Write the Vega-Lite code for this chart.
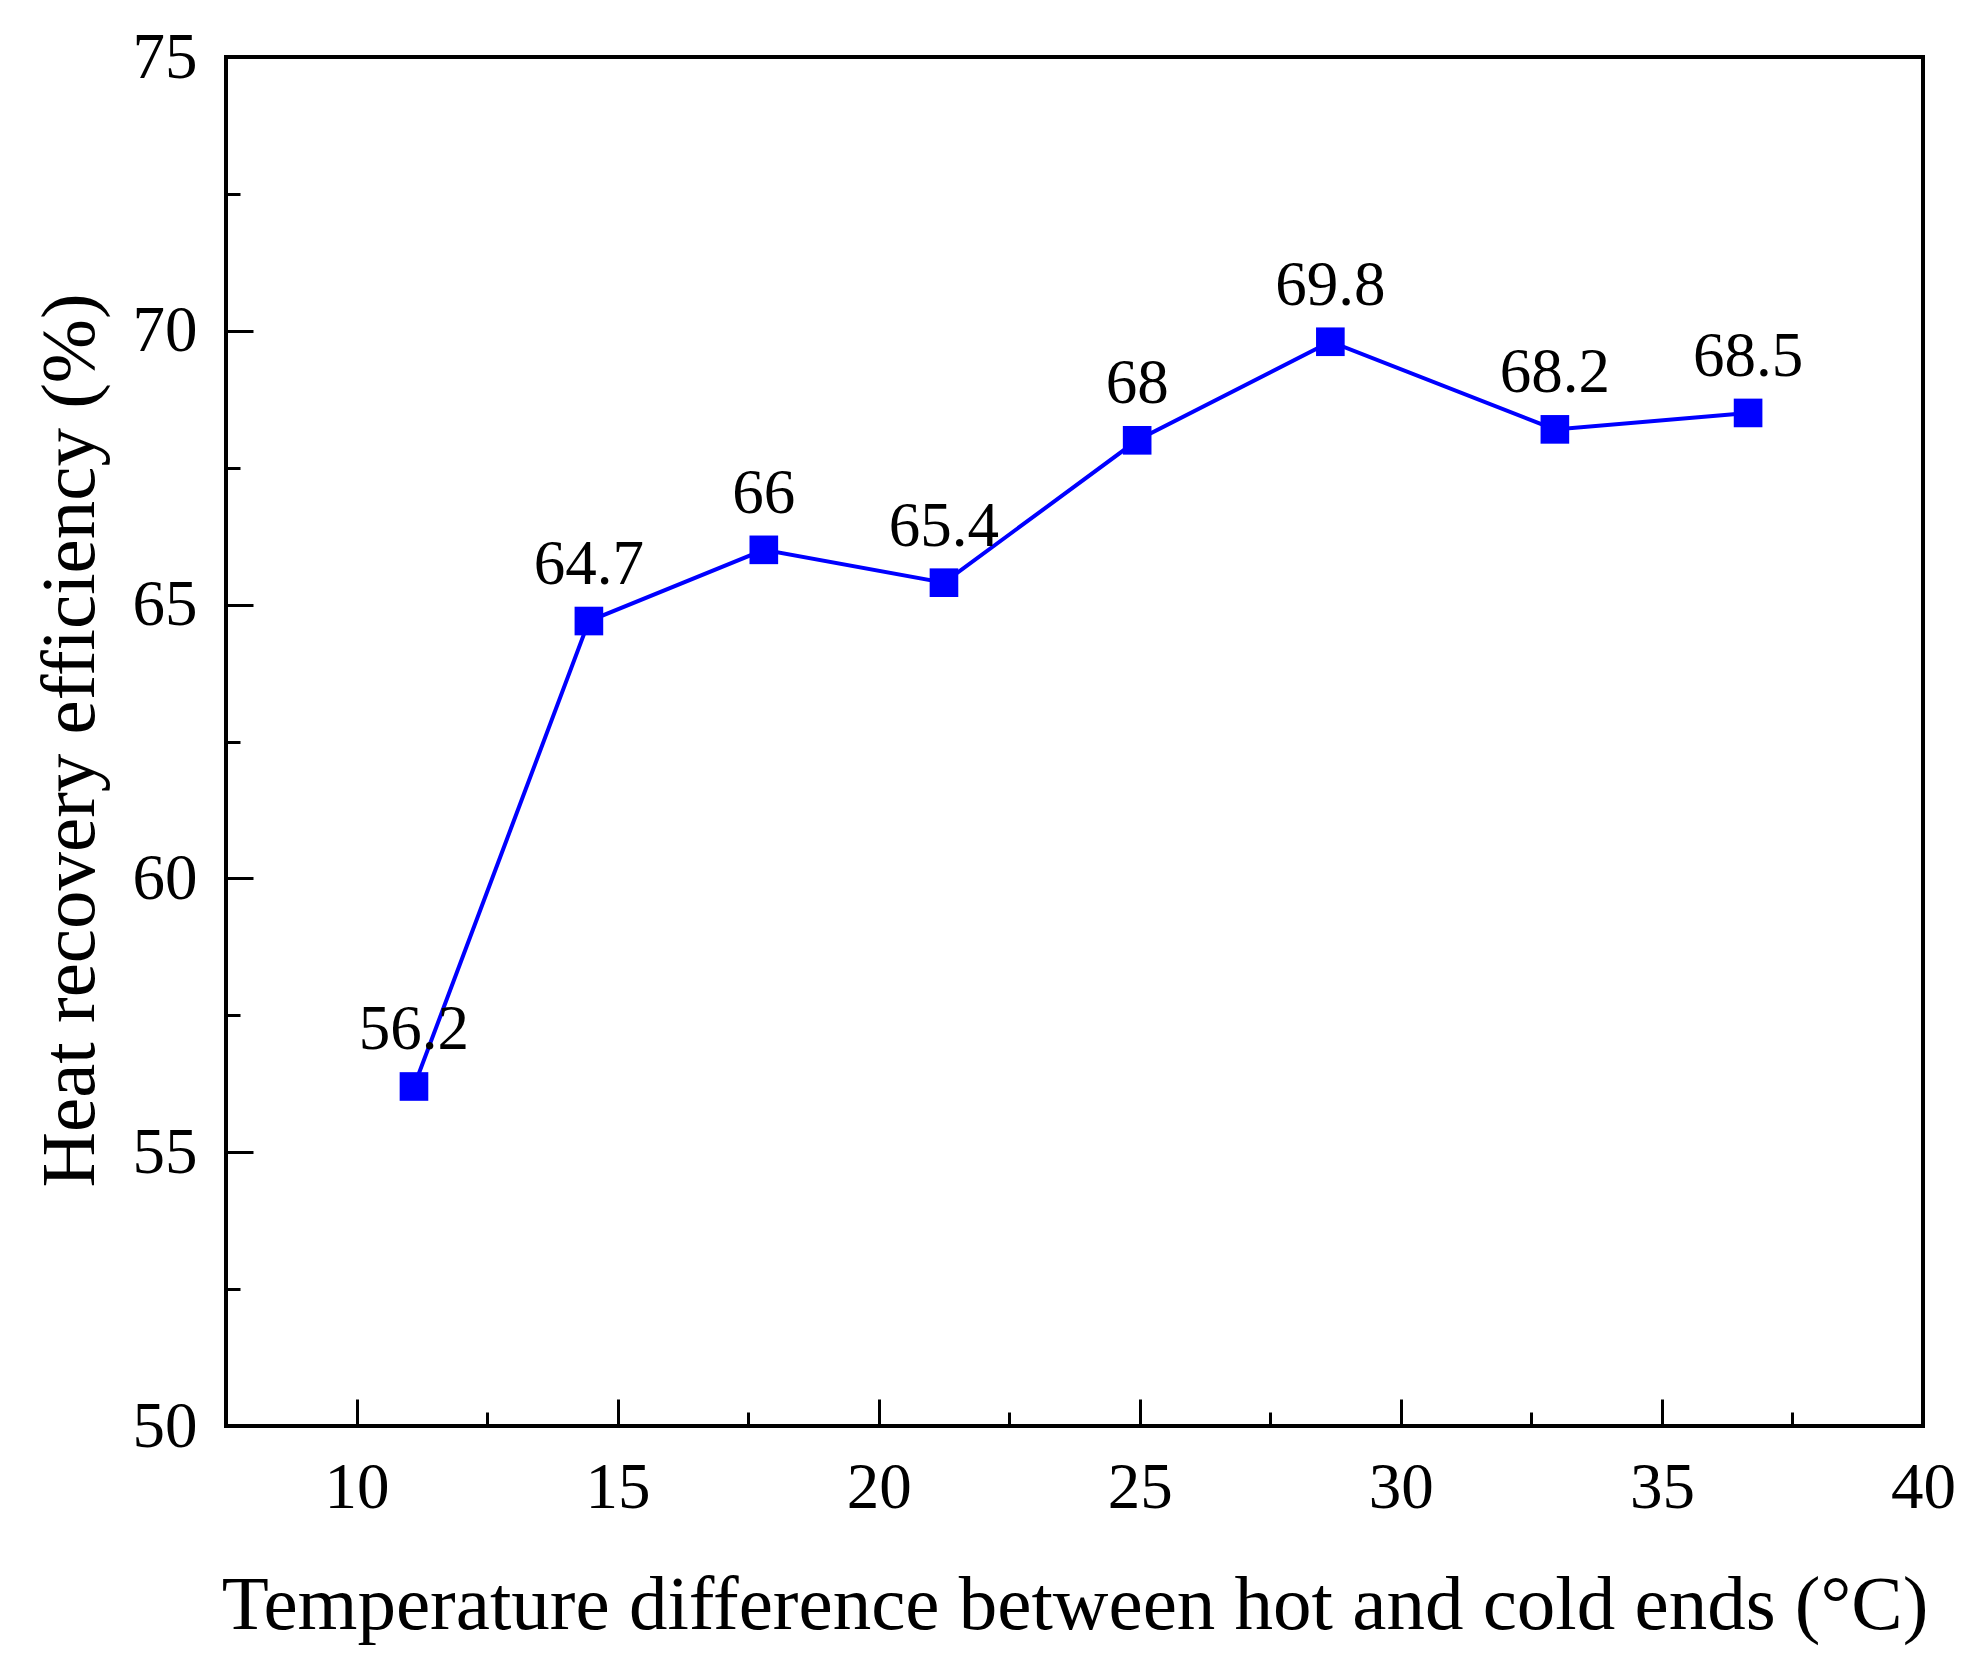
{
  "$schema": "https://vega.github.io/schema/vega-lite/v6.json",
  "width": 1697,
  "height": 1369,
  "autosize": {"type": "none"},
  "padding": {"left": 226, "top": 57, "right": 59, "bottom": 251},
  "background": "white",
  "config": {
    "view": {"stroke": "black", "strokeWidth": 4},
    "font": "Liberation Serif",
    "axis": {"grid": false, "domain": false, "tickColor": "black", "tickWidth": 3, "labelColor": "black", "titleColor": "black", "labelFont": "Liberation Serif", "titleFont": "Liberation Serif", "labelFontSize": 65, "titleFontSize": 77, "titleFontWeight": "normal"}
  },
  "data": {
    "values": [
      {"dt": 11.1, "eff": 56.2, "lab": "56.2"},
      {"dt": 14.45, "eff": 64.7, "lab": "64.7"},
      {"dt": 17.8, "eff": 66.0, "lab": "66"},
      {"dt": 21.25, "eff": 65.4, "lab": "65.4"},
      {"dt": 24.95, "eff": 68.0, "lab": "68"},
      {"dt": 28.65, "eff": 69.8, "lab": "69.8"},
      {"dt": 32.95, "eff": 68.2, "lab": "68.2"},
      {"dt": 36.65, "eff": 68.5, "lab": "68.5"}
    ]
  },
  "encoding": {
    "x": {
      "field": "dt", "type": "quantitative",
      "scale": {"domain": [7.5, 40], "nice": false, "zero": false},
      "axis": {
        "title": "Temperature difference between hot and cold ends (°C)",
        "values": [10, 12.5, 15, 17.5, 20, 22.5, 25, 27.5, 30, 32.5, 35, 37.5, 40],
        "labelExpr": "datum.value % 5 === 0 ? datum.label : ''",
        "tickSize": {"condition": {"test": "datum.value % 5 === 0", "value": -27}, "value": -14},
        "labelPadding": 57,
        "labelFlush": false,
        "labelOverlap": false,
        "titleY": 179,
        "titleBaseline": "middle"
      }
    },
    "y": {
      "field": "eff", "type": "quantitative",
      "scale": {"domain": [50, 75], "nice": false, "zero": false},
      "axis": {
        "title": "Heat recovery efficiency (%)",
        "values": [50, 52.5, 55, 57.5, 60, 62.5, 65, 67.5, 70, 72.5, 75],
        "labelExpr": "datum.value % 5 === 0 ? datum.label : ''",
        "tickSize": {"condition": {"test": "datum.value % 5 === 0", "value": -27}, "value": -14},
        "labelPadding": 56,
        "labelFlush": false,
        "labelOverlap": false,
        "titleAngle": -90,
        "titleX": -156,
        "titleY": 683,
        "titleAlign": "center",
        "titleBaseline": "middle"
      }
    }
  },
  "layer": [
    {"mark": {"type": "line", "color": "#0000ff", "strokeWidth": 4}},
    {"mark": {"type": "point", "shape": "square", "filled": true, "color": "#0000ff", "size": 820, "opacity": 1}},
    {"mark": {"type": "text", "dy": -56, "fontSize": 63, "font": "Liberation Serif", "color": "black", "baseline": "middle"}, "encoding": {"text": {"field": "lab"}}}
  ]
}
